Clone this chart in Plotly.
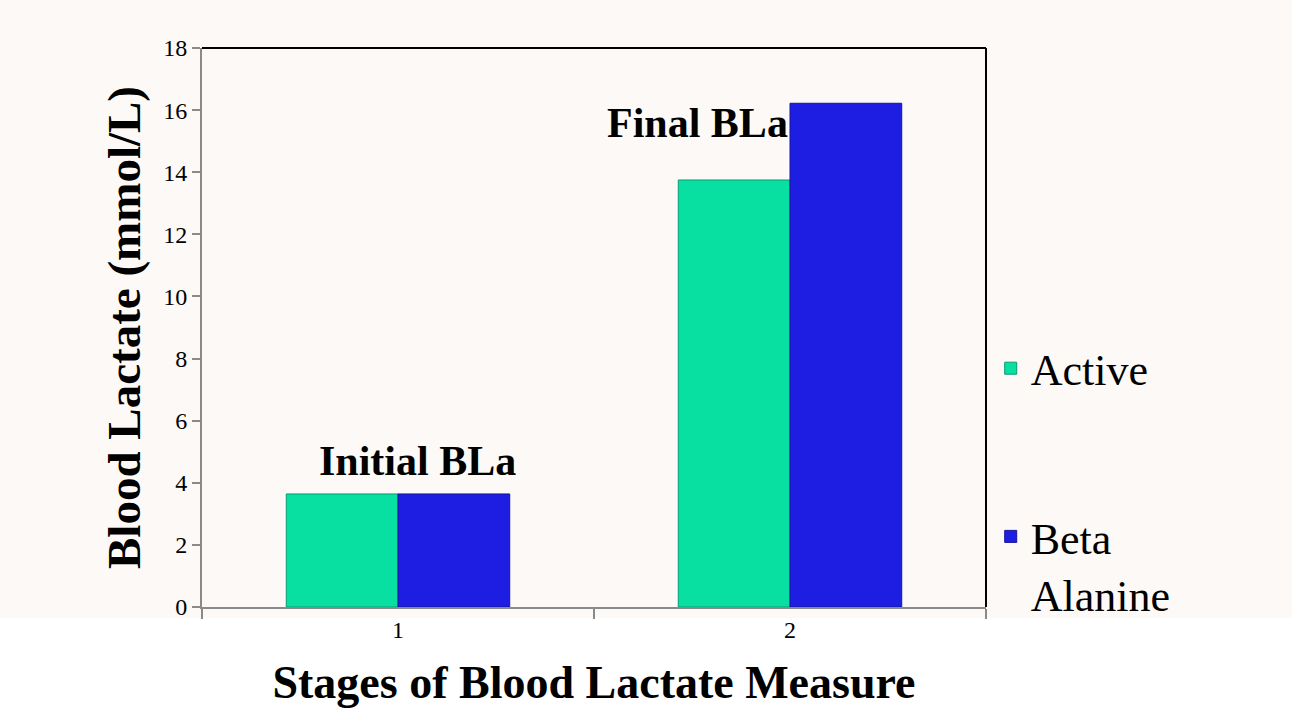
import plotly.graph_objects as go

categories = ["1", "2"]
active_values = [3.64, 13.75]
beta_values = [3.64, 16.22]
series_names = ["Active", "Beta<br>Alanine"]
y_ticks = [0, 2, 4, 6, 8, 10, 12, 14, 16, 18]
stage_labels = ["Initial BLa", "Final BLa"]

SERIF = "Liberation Serif, Times New Roman, serif"
BG = "#fdf9f7"

fig = go.Figure()
fig.add_trace(go.Bar(
    x=categories, y=active_values, name=series_names[0],
    marker=dict(color="#08E0A2", line=dict(color="#089A72", width=1)),
    legendgroup="a",
))
fig.add_trace(go.Bar(
    x=categories, y=beta_values, name=series_names[1],
    marker=dict(color="#1E1EE2", line=dict(color="#15159A", width=1)),
    legendgroup="b",
))

fig.update_layout(
    width=1292, height=708,
    margin=dict(l=202, r=306, t=48, b=101, autoexpand=False),
    paper_bgcolor=BG, plot_bgcolor=BG,
    barmode="group", bargap=0.43, bargroupgap=0,
    font=dict(family=SERIF, color="black"),
    showlegend=True,
    legend=dict(
        x=1.006, xanchor="left", y=0.49, yanchor="top",
        font=dict(size=44, family=SERIF, color="black"),
        bgcolor="rgba(0,0,0,0)",
        traceorder="grouped", tracegroupgap=108,
        valign="top",
    ),
    xaxis=dict(
        type="category", automargin=False,
        showline=True, linecolor="#8a8a8a", linewidth=2,
        ticks="outside", tickson="boundaries", ticklen=10, tickcolor="#8a8a8a", tickwidth=2,
        tickfont=dict(size=24, family=SERIF, color="black"),
        showgrid=False, zeroline=False,
        title=dict(text="<b>Stages of Blood Lactate Measure</b>",
                   font=dict(size=46, family=SERIF, color="black"), standoff=37),
    ),
    yaxis=dict(
        range=[0, 18], tickvals=y_ticks, automargin=False,
        showline=True, linecolor="#8a8a8a", linewidth=2,
        ticks="outside", ticklen=8, tickcolor="#8a8a8a", tickwidth=2,
        tickfont=dict(size=24, family=SERIF, color="black"),
        showgrid=False, zeroline=False,
        title=dict(text="<b>Blood Lactate (mmol/L)</b>",
                   font=dict(size=47, family=SERIF, color="black"), standoff=8),
    ),
    shapes=[
        dict(type="rect", xref="paper", yref="paper", x0=-0.3, x1=1.4, y0=-0.3, y1=-0.0197,
             fillcolor="white", line=dict(width=0), layer="below"),
        dict(type="line", xref="paper", yref="paper", x0=0, x1=1, y0=1, y1=1,
             line=dict(color="black", width=2)),
        dict(type="line", xref="paper", yref="paper", x0=1, x1=1, y0=0, y1=1,
             line=dict(color="black", width=2)),
    ],
    annotations=[
        dict(x=0.05, y=4.7, xref="x", yref="y", text="<b>" + stage_labels[0] + "</b>",
             showarrow=False, font=dict(size=42, family=SERIF, color="black")),
        dict(x=0.765, y=15.6, xref="x", yref="y", text="<b>" + stage_labels[1] + "</b>",
             showarrow=False, font=dict(size=42, family=SERIF, color="black")),
    ],
)

fig.write_html(
    "out.html",
    config={"displayModeBar": False},
    post_script="document.body.style.margin='0';document.body.style.overflow='hidden';",
)
